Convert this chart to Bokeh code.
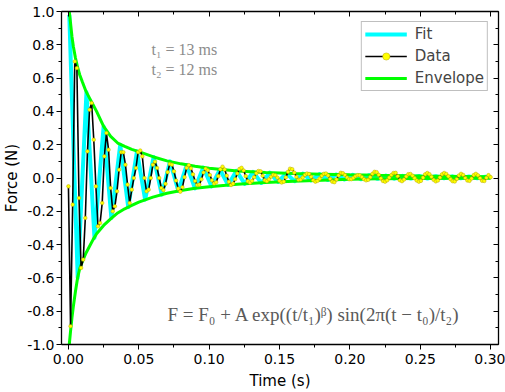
import numpy as np
from bokeh.plotting import figure
from bokeh.models import (Range1d, LinearAxis, SingleIntervalTicker, NumeralTickFormatter,
                          Legend, LegendItem, Label)
from bokeh.embed import file_html
from bokeh.resources import INLINE

# Measured force signal, sampled every 1.5 ms
SAMPLE_INTERVAL = 0.0015
force = [
    -0.05, -0.89, -0.16, 0.70, 0.66, -0.12, -0.54, -0.49, -0.24, 0.16,
    0.41, 0.45, 0.23, -0.05, -0.29, -0.27, -0.15, 0.13, 0.27, 0.17,
    -0.06, -0.20, -0.17, -0.08, 0.05, 0.155, 0.155, 0.08, -0.04, -0.15,
    -0.07, 0.0, 0.06, 0.155, 0.165, 0.13, 0.0, -0.08, -0.07, 0.0,
    0.08, 0.098, 0.06, 0.0, -0.06, -0.073, -0.035, 0.035, 0.084, 0.08,
    0.04, -0.015, -0.064, -0.082, -0.056, 0.005, 0.061, 0.077, 0.058, 0.022,
    -0.018, -0.042, -0.04, -0.008, 0.033, 0.055, 0.046, 0.018, -0.014, -0.033,
    -0.026, 0.011, 0.052, 0.068, 0.051, 0.014, -0.023, -0.042, -0.034, -0.007,
    0.027, 0.054, 0.061, 0.045, 0.011, -0.019, -0.028, -0.017, 0.005, 0.028,
    0.042, 0.04, 0.014, -0.013, -0.019, -0.008, 0.008, 0.019, 0.017, 0.002,
    -0.016, -0.027, -0.022, 0.004, 0.037, 0.056, 0.053, 0.032, 0.006, -0.011,
    -0.009, 0.003, 0.018, 0.027, 0.024, 0.007, -0.013, -0.022, -0.017, -0.004,
    0.013, 0.025, 0.027, 0.015, -0.005, -0.022, -0.025, -0.009, 0.015, 0.031,
    0.029, 0.018, 0.003, -0.007, -0.007, 0.001, 0.011, 0.017, 0.016, 0.006,
    -0.007, -0.014, -0.011, 0.005, 0.025, 0.037, 0.035, 0.019, -0.002, -0.018,
    -0.022, -0.014, 0.002, 0.018, 0.03, 0.031, 0.011, -0.013, -0.019, -0.009,
    0.009, 0.023, 0.024, 0.014, -0.001, -0.015, -0.022, -0.017, 0.002, 0.022,
    0.03, 0.023, 0.007, -0.011, -0.02, -0.015, 0.003, 0.022, 0.03, 0.024,
    0.01, -0.007, -0.019, -0.021, -0.006, 0.015, 0.025, 0.018, 0.0, -0.015,
    -0.017, -0.003, 0.017, 0.025, 0.016, -0.001, -0.017, -0.018, 0.001, 0.017,
    0.005,
]
time = SAMPLE_INTERVAL * np.arange(len(force))

# Fitted damped sine: turning points of the fit curve
fit_time = [
    0.0006, 0.0066, 0.0128, 0.0185, 0.0250, 0.0305, 0.0368, 0.0425, 0.0487, 0.0545,
    0.0605, 0.0663, 0.0722, 0.0781, 0.0840, 0.0899, 0.0958, 0.1017, 0.1076, 0.1135,
    0.1194, 0.1253, 0.1312, 0.1371, 0.1430, 0.1489, 0.1548, 0.1607, 0.1666, 0.1725,
    0.1784, 0.1843, 0.1902, 0.1961, 0.2020, 0.2079, 0.2138, 0.2197, 0.2256, 0.2315,
    0.2374, 0.2433, 0.2492, 0.2551, 0.2610, 0.2669, 0.2728, 0.2787, 0.2846, 0.2905,
    0.2964, 0.3000,
]
fit_force = [
    0.98, -0.60, 0.515, -0.36, 0.31, -0.24, 0.20, -0.175, 0.16, -0.13,
    0.126, -0.10, 0.10, -0.078, 0.078, -0.062, 0.063, -0.05, 0.051, -0.042,
    0.043, -0.035, 0.037, -0.03, 0.032, -0.024, 0.028, -0.019, 0.026, -0.015,
    0.023, -0.012, 0.021, -0.009, 0.019, -0.007, 0.017, -0.005, 0.015, -0.004,
    0.013, -0.003, 0.012, -0.003, 0.011, -0.002, 0.01, -0.002, 0.009, -0.001,
    0.008, 0.003,
]

# Decay envelope of the fit (upper and lower branches)
env_time = [
    0.0006, 0.0015, 0.0025, 0.0035, 0.005, 0.0065, 0.008, 0.010, 0.0125, 0.015,
    0.0175, 0.020, 0.025, 0.030, 0.035, 0.040, 0.045, 0.050, 0.060, 0.070,
    0.080, 0.090, 0.100, 0.120, 0.140, 0.160, 0.180, 0.200, 0.220, 0.250,
    0.280, 0.300,
]
env_upper = [
    1.0, 0.93, 0.85, 0.79, 0.72, 0.665, 0.62, 0.575, 0.52, 0.48,
    0.44, 0.40, 0.31, 0.25, 0.21, 0.19, 0.172, 0.158, 0.128, 0.103,
    0.085, 0.07, 0.058, 0.042, 0.033, 0.027, 0.023, 0.019, 0.016, 0.012,
    0.009, 0.007,
]
env_lower = [
    -1.0, -0.92, -0.84, -0.77, -0.68, -0.60, -0.545, -0.50, -0.45, -0.41,
    -0.37, -0.335, -0.285, -0.245, -0.21, -0.185, -0.165, -0.145, -0.115, -0.092,
    -0.075, -0.062, -0.052, -0.038, -0.027, -0.019, -0.013, -0.008, -0.005, -0.003,
    -0.002, -0.001,
]

t1_ms = 13
t2_ms = 12

SANS = "DejaVu Sans"

p = figure(
    width=505, height=392,
    output_backend="svg", toolbar_location=None,
    x_range=Range1d(-0.00493, 0.3056), y_range=Range1d(-1.0, 1.0),
    min_border_left=57, min_border_right=7, min_border_top=11, min_border_bottom=47,
    background_fill_color="white", border_fill_color="white",
)
p.outline_line_color = None
p.xgrid.visible = False
p.ygrid.visible = False

x_ticker = SingleIntervalTicker(interval=0.05, num_minor_ticks=2)
y_ticker = SingleIntervalTicker(interval=0.2, num_minor_ticks=2)


def style_axis(ax, outward):
    ax.axis_line_color = "black"
    ax.axis_line_width = 1.3
    ax.major_tick_line_color = "black"
    ax.minor_tick_line_color = "black"
    ax.major_tick_line_width = 1
    ax.minor_tick_line_width = 1
    if outward:
        ax.major_tick_out, ax.major_tick_in = 5, 0
        ax.minor_tick_out, ax.minor_tick_in = 3, 0
    else:
        ax.major_tick_out, ax.major_tick_in = 0, 5
        ax.minor_tick_out, ax.minor_tick_in = 0, 3
    ax.major_label_text_font = SANS
    ax.major_label_text_font_size = "14px"
    ax.major_label_text_color = "black"
    ax.axis_label_text_font = SANS
    ax.axis_label_text_font_size = "15px"
    ax.axis_label_text_font_style = "normal"
    ax.axis_label_text_color = "black"


xb = p.xaxis[0]
xb.ticker = x_ticker
xb.formatter = NumeralTickFormatter(format="0.00")
style_axis(xb, True)
xb.axis_label = "Time (s)"
xb.major_label_standoff = 4
xb.axis_label_standoff = 5

yl = p.yaxis[0]
yl.ticker = y_ticker
yl.formatter = NumeralTickFormatter(format="0.0")
style_axis(yl, True)
yl.axis_label = "Force (N)"
yl.major_label_standoff = 2
yl.axis_label_standoff = 3

top = LinearAxis(ticker=x_ticker)
style_axis(top, False)
top.major_label_text_color = None
p.add_layout(top, "above")

right = LinearAxis(ticker=y_ticker)
style_axis(right, False)
right.major_label_text_color = None
p.add_layout(right, "right")

# Fit, envelope, then the measured data on top
fit_r = p.line(fit_time, fit_force, line_color="#00ffff", line_width=4, line_join="round")
env_up = p.line(env_time, env_upper, line_color="#00ff00", line_width=3)
p.line(env_time, env_lower, line_color="#00ff00", line_width=3)
data_line = p.line(time, force, line_color="black", line_width=1.6)
data_pts = p.scatter(time, force, size=3.6, fill_color="#ffff00",
                     line_color="#b8a800", line_width=0.5)

legend = Legend(
    items=[
        LegendItem(label="Fit", renderers=[fit_r]),
        LegendItem(label="Data", renderers=[data_line, data_pts]),
        LegendItem(label="Envelope", renderers=[env_up]),
    ],
    location="top_right", margin=10,
    border_line_color="#7f7f7f", border_line_width=1,
    background_fill_color="white", background_fill_alpha=1.0,
    label_text_font=SANS, label_text_font_size="15px",
    glyph_width=42, glyph_height=18, label_height=18,
    label_standoff=8, padding=3, spacing=4,
)
p.add_layout(legend)

SERIF = "Liberation Serif"
for i, (name, val) in enumerate([("t₁", t1_ms), ("t₂", t2_ms)]):
    p.add_layout(Label(
        x=90, y=295 - 20 * i, x_units="screen", y_units="screen",
        text=f"{name} = {val} ms", text_font=SERIF, text_font_size="16px",
        text_color="#8c8c8c", text_baseline="middle",
    ))

p.add_layout(Label(
    x=106, y=30, x_units="screen", y_units="screen",
    text="F = F₀ + A exp((t/t₁)ᵝ) sin(2π(t − t₀)/t₂)",
    text_font=SERIF, text_font_size="19px", text_color="#5a5a5a",
    text_baseline="middle",
))

open("out.html", "w").write(file_html(p, INLINE))
